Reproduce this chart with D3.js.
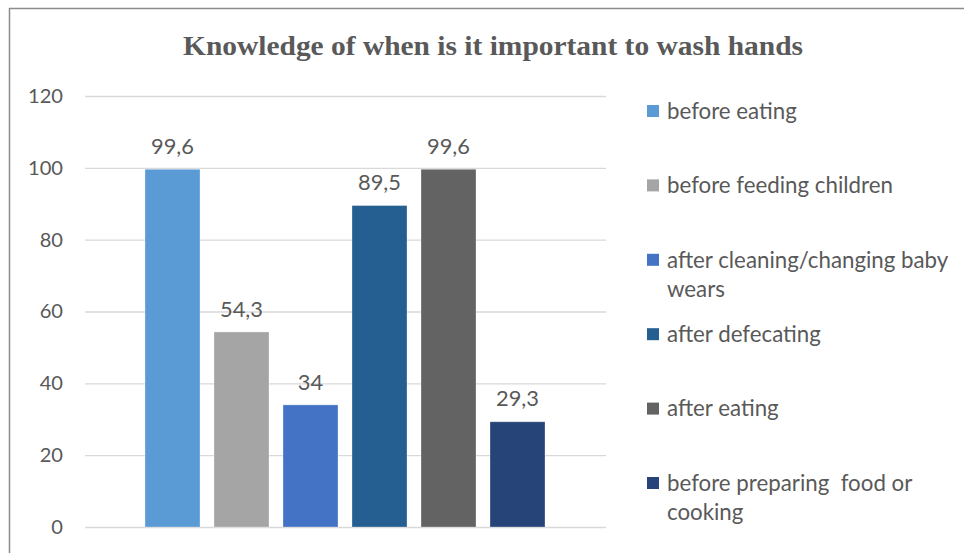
<!DOCTYPE html>
<html><head><meta charset="utf-8">
<script src="https://cdn.jsdelivr.net/npm/d3@7"></script>
<style>body{margin:0;background:#fff}</style>
</head><body>
<script>
const categories = ["before eating","before feeding children","after cleaning/changing baby wears","after defecating","after eating","before preparing  food or cooking"];
const values = [99.6, 54.3, 34, 89.5, 99.6, 29.3];
const valueLabels = ["99,6","54,3","34","89,5","99,6","29,3"];
const colors = ["#5B9BD5","#A5A5A5","#4472C4","#255E91","#636363","#264478"];
const legendLines = [["before eating"],["before feeding children"],["after cleaning/changing baby","wears"],["after defecating"],["after eating"],["before preparing  food or","cooking"]];
const yTicks = [0,20,40,60,80,100,120];
const title = "Knowledge of when is it important to wash hands";

const W=964,H=553;
const font="Lato";
const svg=d3.select("body").append("svg").attr("width",W).attr("height",H);
svg.append("rect").attr("width",W).attr("height",H).attr("fill","#fff");

function fit(sample,target){
  const t=svg.append("text").attr("font-family",font).attr("font-size",20).style("white-space","pre").text(sample);
  const w=t.node().getComputedTextLength(); t.remove();
  return 20*target/w;
}
const tickSize=fit("120",35);
const lblSize=fit("99,6",43);
const legSize=fit("before feeding children",226);

// frame
svg.append("line").attr("x1",9).attr("x2",W).attr("y1",8.5).attr("y2",8.5).attr("stroke","#8c8c8c").attr("stroke-width",1.5);
svg.append("line").attr("x1",9.5).attr("x2",9.5).attr("y1",8).attr("y2",H).attr("stroke","#8c8c8c").attr("stroke-width",1.5);

svg.append("text").attr("x",493).attr("y",55).attr("text-anchor","middle")
  .attr("font-family","Liberation Serif").attr("font-weight","bold").attr("font-size",28)
  .attr("fill","#595959").attr("textLength",620).attr("lengthAdjust","spacingAndGlyphs").text(title);

const y=d3.scaleLinear().domain([0,120]).range([527,96]);
const x=d3.scaleBand().domain(categories).range([138,552]).paddingInner(14/69).paddingOuter(7/69);

const yAxis=svg.append("g").attr("transform","translate(85,0)")
  .call(d3.axisLeft(y).tickValues(yTicks).tickSize(-521).tickPadding(22).tickFormat(d3.format("d")));
yAxis.select(".domain").remove();
yAxis.selectAll(".tick line").attr("stroke","#d9d9d9").attr("stroke-width",1.3);
yAxis.selectAll(".tick text").attr("fill","#595959").attr("font-family",font).attr("font-size",tickSize);

svg.selectAll("rect.bar").data(categories).enter().append("rect").attr("class","bar")
  .attr("x",d=>x(d)).attr("width",x.bandwidth())
  .attr("y",(d,i)=>y(values[i])).attr("height",(d,i)=>y(0)-y(values[i]))
  .attr("fill",(d,i)=>colors[i]).attr("stroke","#fff").attr("stroke-opacity",0.3).attr("stroke-width",1);

svg.selectAll("text.lbl").data(categories).enter().append("text").attr("class","lbl")
  .attr("x",d=>x(d)+x.bandwidth()/2).attr("y",(d,i)=>y(values[i])-23).attr("dy","0.35em")
  .attr("text-anchor","middle").attr("font-family",font).attr("font-size",lblSize).attr("fill","#595959")
  .text((d,i)=>valueLabels[i]);

const leg=svg.append("g");
legendLines.forEach((lines,i)=>{
  const cy=111+i*74.4;
  leg.append("rect").attr("x",647).attr("y",cy-6).attr("width",12).attr("height",12).attr("fill",colors[i]);
  lines.forEach((t,j)=>{
    leg.append("text").attr("x",667).attr("y",cy+j*29).attr("dy","0.35em").style("white-space","pre")
      .attr("font-family",font).attr("font-size",legSize).attr("fill","#595959").text(t);
  });
});
</script>
</body></html>
